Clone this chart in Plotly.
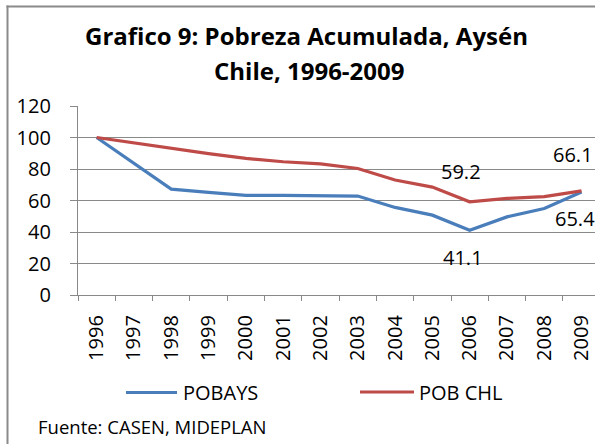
import plotly.graph_objects as go

years = ["1996", "1997", "1998", "1999", "2000", "2001", "2002",
         "2003", "2004", "2005", "2006", "2007", "2008", "2009"]
pobays = [100, 83.5, 67.2, 65.2, 63.2, 63.2, 63.2, 62.8, 55.6, 50.7, 41.1, 49.6, 54.9, 65.4]
pob_chl = [100, 96.5, 93.0, 89.8, 86.7, 84.6, 83.3, 80.3, 73.0, 68.5, 59.2, 61.3, 62.5, 66.1]
y_ticks = [0, 20, 40, 60, 80, 100, 120]

label_years_blue = ["2006", "2009"]
label_years_red = ["2006", "2009"]

BLUE = "#4A7EBB"
RED = "#BE4B48"
GRID = "#898989"
FONT = "Open Sans"

W, H = 595, 444
ML, MR, MT, MB = 78, 0, 106, 149
PW, PH = W - ML - MR, H - MT - MB


def px(x):
    return (x - ML) / PW


def py(y):
    return (H - MB - y) / PH


fig = go.Figure()
fig.add_trace(go.Scatter(x=years, y=pobays, mode="lines", name="POBAYS",
                         line=dict(color=BLUE, width=3.2), showlegend=False))
fig.add_trace(go.Scatter(x=years, y=pob_chl, mode="lines", name="POB CHL",
                         line=dict(color=RED, width=3.2), showlegend=False))

annotations = []
for yr in label_years_red:
    i = years.index(yr)
    v = pob_chl[i]
    annotations.append(dict(x=i, y=v, xref="x", yref="y", text=f"{v:.1f}",
                            showarrow=False, yshift=30 if yr == "2006" else 36,
                            xshift=-9, font=dict(family=FONT, size=20, color="#000")))
for yr in label_years_blue:
    i = years.index(yr)
    v = pobays[i]
    annotations.append(dict(x=i, y=v, xref="x", yref="y", text=f"{v:.1f}",
                            showarrow=False, yshift=-27,
                            xshift=-7, font=dict(family=FONT, size=20, color="#000")))

# title
annotations.append(dict(x=px(306), y=py(36), xref="paper", yref="paper",
                        text="<b>Grafico 9: Pobreza Acumulada, Aysén</b>", showarrow=False,
                        xanchor="center", yanchor="middle",
                        font=dict(family=FONT, size=24, color="#000")))
annotations.append(dict(x=px(309), y=py(70), xref="paper", yref="paper",
                        text="<b>Chile, 1996-2009</b>", showarrow=False,
                        xanchor="center", yanchor="middle",
                        font=dict(family=FONT, size=24, color="#000")))
# legend (manual)
annotations.append(dict(x=px(181), y=py(392), xref="paper", yref="paper",
                        text="POBAYS", showarrow=False, xanchor="left", yanchor="middle",
                        font=dict(family=FONT, size=20, color="#000")))
annotations.append(dict(x=px(417), y=py(392), xref="paper", yref="paper",
                        text="POB CHL", showarrow=False, xanchor="left", yanchor="middle",
                        font=dict(family=FONT, size=20, color="#000")))
# source
annotations.append(dict(x=px(36), y=py(426), xref="paper", yref="paper",
                        text="Fuente: CASEN, MIDEPLAN", showarrow=False,
                        xanchor="left", yanchor="middle",
                        font=dict(family=FONT, size=18.5, color="#000")))

shapes = [
    dict(type="line", xref="paper", yref="paper", x0=px(126), x1=px(177),
         y0=py(392.5), y1=py(392.5), line=dict(color=BLUE, width=3.2)),
    dict(type="line", xref="paper", yref="paper", x0=px(360), x1=px(414),
         y0=py(392), y1=py(392), line=dict(color=RED, width=3.2)),
    dict(type="line", xref="paper", yref="paper", x0=px(7.5), x1=px(7.5),
         y0=py(452), y1=py(5.5), line=dict(color="#8a8a8a", width=2)),
    dict(type="line", xref="paper", yref="paper", x0=px(6.5), x1=px(602),
         y0=py(6.5), y1=py(6.5), line=dict(color="#8a8a8a", width=2)),
]

fig.update_layout(
    width=W, height=H,
    margin=dict(l=ML, r=MR, t=MT, b=MB, pad=0),
    paper_bgcolor="white", plot_bgcolor="white",
    annotations=annotations, shapes=shapes,
    showlegend=False,
    xaxis=dict(type="category", range=[-0.5, 13.36], showgrid=False,
               showline=True, linecolor=GRID, linewidth=1.3,
               ticks="outside", ticklen=5, tickcolor=GRID, tickwidth=1.3,
               tickson="boundaries", tickangle=-90,
               tickfont=dict(family=FONT, size=20, color="#000"),
               ticklabelstandoff=11),
    yaxis=dict(range=[0, 120], tickvals=y_ticks, showgrid=True,
               gridcolor=GRID, gridwidth=1.3, zeroline=False,
               showline=True, linecolor=GRID, linewidth=1.3,
               ticks="outside", ticklen=7, tickcolor=GRID, tickwidth=1.3,
               tickfont=dict(family=FONT, size=20, color="#000"),
               ticklabelstandoff=15),
)

fig.write_html("out.html", config={"displayModeBar": False},
               post_script="document.body.style.margin='0';document.body.style.overflow='hidden';")
